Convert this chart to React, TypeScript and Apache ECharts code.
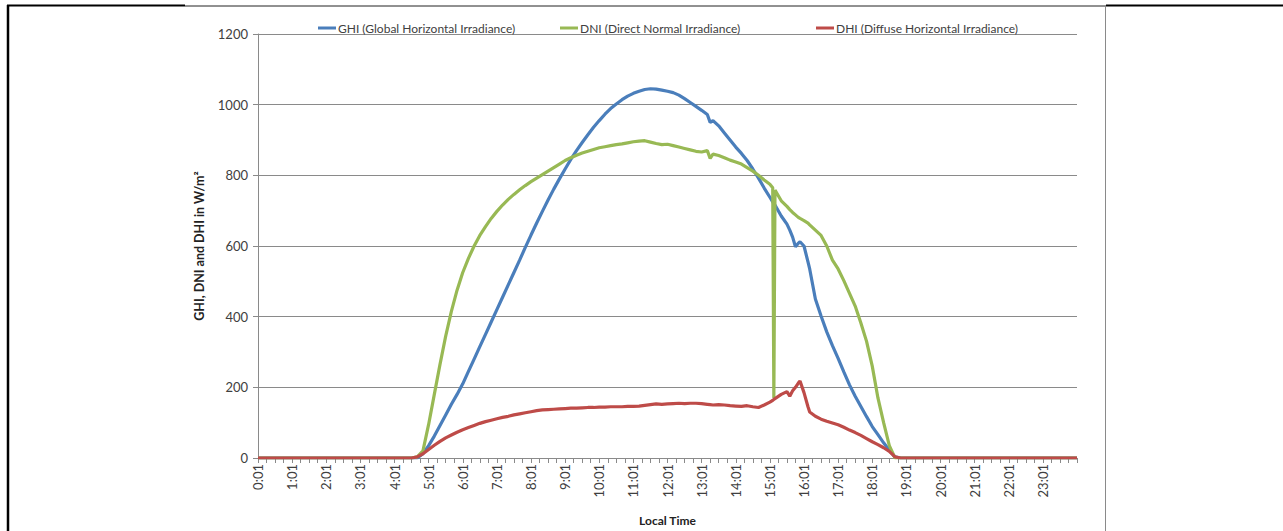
import React, { useEffect, useRef } from "react";
import * as echarts from "echarts";

// Sample times (local time, H:MM)
const times = [
  "0:00", "4:30", "4:40", "4:50", "5:00", "5:10", "5:20", "5:30", "5:40", "5:50",
  "6:00", "6:10", "6:20", "6:30", "6:40", "6:50",
  "7:00", "7:10", "7:20", "7:30", "7:40", "7:50",
  "8:00", "8:10", "8:20", "8:30", "8:40", "8:50",
  "9:00", "9:10", "9:20", "9:30", "9:40", "9:50",
  "10:00", "10:10", "10:20", "10:30", "10:40", "10:50",
  "11:00", "11:10", "11:20", "11:30", "11:40", "11:50",
  "12:00", "12:10", "12:20", "12:30", "12:40", "12:50",
  "13:00", "13:10", "13:15", "13:20", "13:30", "13:40", "13:50",
  "14:00", "14:10", "14:20", "14:30", "14:40", "14:50",
  "15:00", "15:05", "15:07", "15:09", "15:20", "15:30", "15:35", "15:40", "15:45", "15:50", "15:53",
  "16:00", "16:07", "16:10", "16:20", "16:30", "16:40", "16:50",
  "17:00", "17:10", "17:20", "17:30", "17:40", "17:50",
  "18:00", "18:10", "18:20", "18:30", "18:40", "18:50", "19:00", "24:00",
];

const ghi = [
  0, 0, 0, 12, 35, 62, 92, 122, 152, 180,
  210, 245, 280, 315, 350, 385,
  420, 455, 490, 525, 560, 596,
  631, 665, 698, 730, 761, 790,
  818, 845, 870, 893, 915, 936,
  955, 973, 989, 1002, 1014, 1024,
  1032, 1038, 1043, 1045, 1044, 1041,
  1038, 1034, 1027, 1017, 1006, 995,
  984, 972, 950, 955, 940, 920, 900,
  880, 862, 842, 818, 792, 764,
  738, 725, 720, 716, 685, 662, 645, 625, 598, 608, 612,
  600, 555, 535, 450, 402, 357, 318,
  282, 244, 207, 175, 146, 117,
  89, 66, 43, 22, 3, 0, 0, 0,
];

const dni = [
  0, 0, 3, 20, 95, 180, 265, 345, 415, 475,
  525, 565, 600, 630, 655, 678,
  698, 716, 732, 746, 759, 771,
  782, 792, 802, 812, 822, 832,
  842, 850, 857, 863, 868, 873,
  878, 881, 884, 887, 889, 892,
  895, 897, 898, 894, 890, 887,
  888, 884, 880, 876, 872, 868,
  866, 870, 848, 860, 856, 850, 843,
  838, 832, 822, 812, 800, 787,
  775, 765, 170, 758, 728, 712, 703, 695, 688, 681, 678,
  672, 665, 660, 645, 630, 600, 560,
  535, 502, 466, 430, 382, 330,
  260, 170, 100, 35, 0, 0, 0, 0,
];

const dhi = [
  0, 0, 3, 12, 24, 36, 47, 57, 65, 73,
  80, 86, 92, 98, 103, 107,
  111, 115, 118, 122, 125, 128,
  131, 134, 136, 137, 138, 139,
  140, 141, 141, 142, 143, 143,
  144, 144, 145, 145, 145, 146,
  146, 147, 149, 151, 153, 152,
  153, 154, 155, 154, 155, 155,
  154, 152, 151, 150, 151, 150, 148,
  147, 146, 148, 145, 143, 150,
  158, 163, 166, 168, 180, 188, 175, 190, 200, 212, 218,
  185, 145, 130, 118, 110, 104, 99,
  94, 87, 79, 72, 64, 55,
  46, 38, 29, 19, 3, 0, 0, 0,
];

const seriesNames = [
  "GHI (Global Horizontal Irradiance)",
  "DNI (Direct Normal Irradiance)",
  "DHI (Diffuse Horizontal Irradiance)",
];
const seriesColors = ["#4A7EBB", "#98B954", "#BE4B48"];
const seriesValues = [ghi, dni, dhi];
const legendLefts = [313, 555, 811];

const yTitle = "GHI, DNI and DHI in W/m²";
const xTitle = "Local Time";

const FONT = "Lato";
const GRAY = "#8a8a8a";

function toMinutes(t: string): number {
  const [h, m] = t.split(":").map(Number);
  return h * 60 + m;
}

export default function App() {
  const ref = useRef<HTMLDivElement>(null);

  useEffect(() => {
    if (!ref.current) return;
    const chart = echarts.init(ref.current, null, { renderer: "svg" });
    const xs = times.map(toMinutes);

    const option: any = {
      animation: false,
      backgroundColor: "#ffffff",
      grid: { left: 258, right: 206, top: 34, bottom: 73, containLabel: false },
      legend: seriesNames.map((n, i) => ({
        data: [n],
        left: legendLefts[i],
        top: 17,
        icon: "rect",
        itemWidth: 18,
        itemHeight: 3,
        itemGap: 4,
        textStyle: { fontFamily: FONT, fontSize: 12, color: "#404040", padding: [0, 0, 0, -3] },
      })),
      xAxis: {
        type: "value",
        min: 0,
        max: 1440,
        interval: 60,
        name: xTitle,
        nameLocation: "middle",
        nameGap: 56,
        nameTextStyle: { fontFamily: FONT, fontSize: 12, fontWeight: "bold", color: "#222" },
        axisLine: { show: true, lineStyle: { color: GRAY, width: 1 } },
        axisTick: { show: true, length: 5, lineStyle: { color: GRAY } },
        minorTick: { show: true, splitNumber: 4, length: 5, lineStyle: { color: GRAY } },
        splitLine: { show: false },
        axisLabel: {
          rotate: 90,
          fontFamily: FONT,
          fontSize: 13,
          color: "#404040",
          margin: 6,
          formatter: (v: number) => (v >= 1440 ? "" : `${Math.round(v / 60)}:01`),
        },
      },
      yAxis: {
        type: "value",
        min: 0,
        max: 1200,
        interval: 200,
        name: yTitle,
        nameLocation: "middle",
        nameGap: 52,
        nameTextStyle: { fontFamily: FONT, fontSize: 12.5, fontWeight: "bold", color: "#222" },
        axisLine: { show: true, lineStyle: { color: GRAY, width: 1 } },
        axisTick: { show: true, length: 5, lineStyle: { color: GRAY } },
        splitLine: { show: true, lineStyle: { color: GRAY, width: 1 } },
        axisLabel: {
          fontFamily: FONT,
          fontSize: 13,
          color: "#404040",
          margin: 10,
          formatter: (v: number) => String(v),
        },
      },
      series: seriesNames.map((n, i) => ({
        name: n,
        type: "line",
        showSymbol: false,
        symbol: "none",
        color: seriesColors[i],
        lineStyle: { color: seriesColors[i], width: 3.2 },
        data: xs.map((x, k) => [x, seriesValues[i][k]]),
        z: 2 + i,
      })),
      graphic: [
        { type: "line", shape: { x1: 8, y1: 5, x2: 8, y2: 531 }, style: { stroke: "#000", lineWidth: 2.5 } },
        { type: "line", shape: { x1: 7, y1: 5.5, x2: 185, y2: 5.5 }, style: { stroke: "#000", lineWidth: 2 } },
        { type: "line", shape: { x1: 185, y1: 6, x2: 1106, y2: 6 }, style: { stroke: "#222", lineWidth: 1 } },
        { type: "line", shape: { x1: 1106, y1: 5.5, x2: 1283, y2: 5.5 }, style: { stroke: "#000", lineWidth: 2 } },
        { type: "line", shape: { x1: 1105.5, y1: 6, x2: 1105.5, y2: 531 }, style: { stroke: "#8a8a8a", lineWidth: 1 } },
      ],
    };

    chart.setOption(option);
    return () => chart.dispose();
  }, []);

  return (
    <div
      ref={ref}
      style={{ position: "absolute", left: 0, top: 0, width: 1283, height: 531, background: "#fff" }}
    />
  );
}
